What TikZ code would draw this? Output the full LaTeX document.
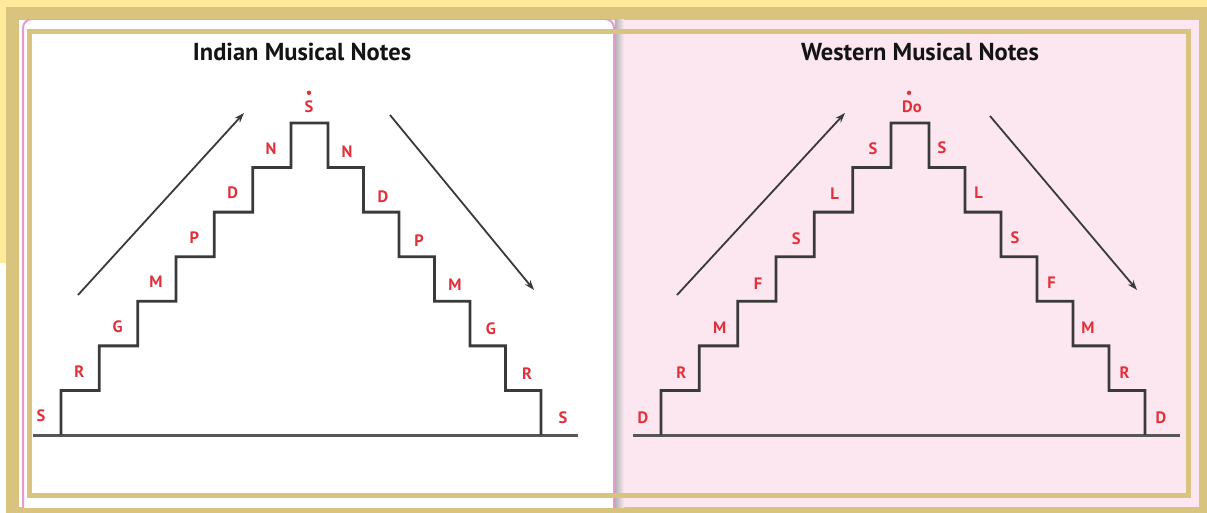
\documentclass[tikz,border=0pt]{standalone}
\usepackage{fontspec}
\setmainfont{PT Sans}
\usetikzlibrary{arrows.meta}
\newcommand{\Base}{435}
\newcommand{\Rise}{44.57}
\newcommand{\StairW}{2.8pt}
\definecolor{paper}{HTML}{FFEA9C}
\definecolor{frame}{HTML}{D8C47F}
\definecolor{blush}{HTML}{FCE6F0}
\definecolor{orchid}{HTML}{E49AD3}
\definecolor{note}{HTML}{E2303B}
\definecolor{ink}{HTML}{3A3A3A}

\tikzset{
  notelab/.style={text=note, font=\bfseries\fontsize{16.5}{16.5}\selectfont, inner sep=0pt},
  heading/.style={text=black!92, font=\bfseries\fontsize{24.5}{24.5}\selectfont, inner sep=0pt},
  stair/.style={ink, line width=\StairW, line join=miter},
  ground/.style={ink!85, line width=3pt},
  climb/.style={ink, line width=1.8pt, -{Stealth[length=10pt,width=7pt]}},
}

\begin{document}
\begin{tikzpicture}[x=1pt,y=-1pt]
  \useasboundingbox (0,0) rectangle (1207,513);

  % ---- backdrop: pale paper, khaki mount, the two panels ----------------
  \fill[white] (0,0) rectangle (1207,513);
  \fill[paper] (0,0) rectangle (1207,7);
  \fill[paper] (0,0) rectangle (6,263);
  \fill[frame] (6,7) rectangle (1207,513);
  \fill[blush] (19,20) rectangle (1199,507);
  \fill[white] (19,20) rectangle (614,507);
  \begin{scope}
    \clip (19,20) rectangle (1199,507);
    \shade[left color=black!30, right color=blush] (615,20) rectangle (624,507);
    \draw[orchid, line width=2pt, fill=white, rounded corners=9pt] (23,19) rectangle (614,530);
  \end{scope}

  % ---- Indian panel -----------------------------------------------------
  \node[heading] (ititle) at (302,52) {Indian Musical Notes};
  \draw[ground] (33,\Base) -- (578,\Base);
  \draw[stair] (61,\Base)
    \foreach \i in {1,...,6} { -- ++(0,-\Rise) -- ++(38.33,0) }
    -- ++(0,-\Rise) -- (328,123)
    \foreach \i in {1,...,6} { -- ++(0,\Rise) -- ++(35.5,0) }
    -- ++(0,\Rise);
  \foreach \t [count=\i] in {S,R,G,M,P,D,N}
    \node[notelab] (iu\i) at ({41+(\i-1)*38.33},{416-(\i-1)*44.6}) {\t};
  \foreach \t [count=\i] in {N,D,P,M,G,R,S}
    \node[notelab] (id\i) at ({347+(\i-1)*36},{152+(\i-1)*44.3}) {\t};
  \node[notelab] (itop) at (309,107) {S};
  \fill[note] (itop.north) ++(0,-8) circle (2.2);
  \coordinate (iup0) at (78,295);
  \coordinate (iup1) at (244,113);
  \coordinate (idn0) at (390,115);
  \coordinate (idn1) at (534,290);
  \draw[climb] (iup0) -- (iup1);
  \draw[climb] (idn0) -- (idn1);

  % ---- Western panel ----------------------------------------------------
  \node[heading] (wtitle) at (920,52) {Western Musical Notes};
  \draw[ground] (633,\Base) -- (1180,\Base);
  \draw[stair] (661,\Base)
    \foreach \i in {1,...,6} { -- ++(0,-\Rise) -- ++(38.33,0) }
    -- ++(0,-\Rise) -- (929,123)
    \foreach \i in {1,...,6} { -- ++(0,\Rise) -- ++(36,0) }
    -- ++(0,\Rise);
  \foreach \t [count=\i] in {D,R,M,F,S,L,S}
    \node[notelab] (wu\i) at ({643+(\i-1)*38.33},{418-(\i-1)*44.9}) {\t};
  \foreach \t [count=\i] in {S,L,S,F,M,R,D}
    \node[notelab] (wd\i) at ({942+(\i-1)*36.5},{148+(\i-1)*45}) {\t};
  \node[notelab] (wtop) at (912,107) {Do};
  \fill[note] (wtop.north west) ++(7,-8) circle (2.2);
  \coordinate (wup0) at (677,295);
  \coordinate (wup1) at (845,113);
  \coordinate (wdn0) at (990,116);
  \coordinate (wdn1) at (1137,290);
  \draw[climb] (wup0) -- (wup1);
  \draw[climb] (wdn0) -- (wdn1);

  % ---- inner khaki border laid over both panels -------------------------
  \draw[frame, line width=5pt] (29.5,31.5) rectangle (1188.5,495);

\end{tikzpicture}
\end{document}
